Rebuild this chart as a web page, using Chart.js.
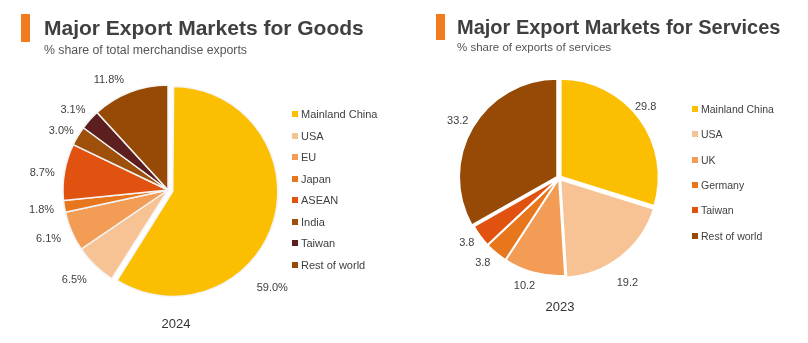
<!DOCTYPE html>
<html>
<head>
<meta charset="utf-8">
<script src="https://cdn.jsdelivr.net/npm/chart.js@4/dist/chart.umd.min.js"></script>
<style>
  html, body { margin: 0; padding: 0; background: #fff; }
  body { width: 808px; height: 343px; position: relative; overflow: hidden;
         font-family: "Liberation Sans", Arial, sans-serif; color: #404040; }
  .panel { position: absolute; top: 0; width: 404px; height: 343px; }
  .panel canvas { position: absolute; left: 0; top: 0; }
  .bar { position: absolute; width: 9px; background: #F07C1F; }
  .title { position: absolute; font-weight: bold; color: #404040; white-space: nowrap; }
  .sub { position: absolute; color: #555; white-space: nowrap; }
  .year { position: absolute; font-size: 13px; color: #333; transform: translateX(-50%); }
  .legend { position: absolute; color: #404040; }
  .legend div { position: absolute; white-space: nowrap; line-height: 12px; }
  .legend span { display: inline-block; width: 6px; height: 6px; margin-right: 3px; vertical-align: 1px; }
</style>
</head>
<body>
<div class="panel" id="goodsPanel" style="left:0">
  <canvas id="goods" width="404" height="343"></canvas>
  <div class="bar" style="left:21px; top:14px; height:28px"></div>
  <div class="title" style="left:44px; top:16px; font-size:21px">Major Export Markets for Goods</div>
  <div class="sub" style="left:44px; top:43px; font-size:12.3px">% share of total merchandise exports</div>
  <div class="legend" id="goodsLegend" style="left:292px; top:108px; font-size:11px"></div>
  <div class="year" style="left:176px; top:316px">2024</div>
</div>
<div class="panel" id="servPanel" style="left:404px">
  <canvas id="services" width="404" height="343"></canvas>
  <div class="bar" style="left:32px; top:14px; height:26px"></div>
  <div class="title" style="left:53px; top:16px; font-size:20px">Major Export Markets for Services</div>
  <div class="sub" style="left:53px; top:41px; font-size:11.5px">% share of exports of services</div>
  <div class="legend" id="servLegend" style="left:288px; top:103px; font-size:10.5px"></div>
  <div class="year" style="left:156px; top:299px">2023</div>
</div>
<script>
// Goods exports, 2024 (% of total merchandise exports)
const goodsLabels = ['Mainland China', 'USA', 'EU', 'Japan', 'ASEAN', 'India', 'Taiwan', 'Rest of world'];
const goodsValues = [59.0, 6.5, 6.1, 1.8, 8.7, 3.0, 3.1, 11.8];
const goodsValueText = ['59.0%', '6.5%', '6.1%', '1.8%', '8.7%', '3.0%', '3.1%', '11.8%'];

// Services exports, 2023 (% of exports of services)
const servLabels = ['Mainland China', 'USA', 'UK', 'Germany', 'Taiwan', 'Rest of world'];
const servValues = [29.8, 19.2, 10.2, 3.8, 3.8, 33.2];
const servValueText = ['29.8', '19.2', '10.2', '3.8', '3.8', '33.2'];

// Palette
const goodsColors = ['#FBBE00', '#F7C394', '#F39C55', '#E8761C', '#E1510F', '#9E500B', '#5C1E1E', '#964A06'];
const servColors = ['#FBBE00', '#F7C394', '#F39C55', '#E8761C', '#E1510F', '#964A06'];

// Exploded slices wider than a half circle get a larger radius from Chart.js;
// keep them at the same radius as the rest of the pie.
const keepRadius = {
  id: 'keepRadius',
  beforeDatasetsDraw(chart) {
    const meta = chart.getDatasetMeta(0);
    const base = meta.controller.outerRadius;
    const offs = chart.data.datasets[0].offset;
    meta.data.forEach((arc, i) => {
      const off = offs[i] || 0;
      if (arc.circumference > Math.PI && off) arc.outerRadius = base - off / 4;
    });
  }
};

// Draws each slice's value just outside the pie near its mid-angle.
const outsideLabels = {
  id: 'outsideLabels',
  afterDatasetsDraw(chart, args, opts) {
    const ctx = chart.ctx;
    const meta = chart.getDatasetMeta(0);
    const base = meta.controller.outerRadius;
    ctx.save();
    ctx.font = '11px "Liberation Sans", Arial, sans-serif';
    ctx.fillStyle = '#404040';
    ctx.textAlign = 'center';
    ctx.textBaseline = 'middle';
    meta.data.forEach((arc, i) => {
      const p = arc.getProps(['x', 'y', 'startAngle', 'endAngle']);
      const mid = (p.startAngle + p.endAngle) / 2 + (opts.shift[i] || 0) * Math.PI / 180;
      const r = base + opts.gap[i];
      ctx.fillText(opts.text[i], p.x + Math.cos(mid) * r, p.y + Math.sin(mid) * r);
    });
    ctx.restore();
  }
};

function makePie(cfg) {
  return new Chart(document.getElementById(cfg.id), {
    type: 'pie',
    data: {
      labels: cfg.labels,
      datasets: [{
        data: cfg.values,
        backgroundColor: cfg.colors,
        borderColor: cfg.border,
        borderWidth: cfg.borderWidth,
        offset: cfg.offsets
      }]
    },
    options: {
      responsive: false,
      animation: false,
      radius: cfg.radius,
      layout: { padding: cfg.padding },
      plugins: {
        legend: { display: false },
        tooltip: { enabled: false },
        outsideLabels: { text: cfg.text, shift: cfg.shift, gap: cfg.gap }
      }
    },
    plugins: [keepRadius, outsideLabels]
  });
}

function makeLegend(id, labels, colors, step) {
  const box = document.getElementById(id);
  labels.forEach((name, i) => {
    const d = document.createElement('div');
    d.style.top = (i * step) + 'px';
    d.innerHTML = '<span style="background:' + colors[i] + '"></span>' + name;
    box.appendChild(d);
  });
}

makePie({
  id: 'goods', labels: goodsLabels, values: goodsValues, colors: goodsColors,
  border: '#F4F4F4', borderWidth: 1.5,
  offsets: [20, 0, 0, 0, 0, 0, 0, 0], radius: 105,
  padding: { left: 16, right: 84, top: 50, bottom: 13 },
  text: goodsValueText,
  shift: [27, 2, 1, 0, -2, -2, -2, -7],
  gap: [38, 25, 24, 23, 22, 17, 19, 20]
});

makePie({
  id: 'services', labels: servLabels, values: servValues, colors: servColors,
  border: '#FFFFFF', borderWidth: 2,
  offsets: [8, 8, 0, 0, 0, 8], radius: 98,
  padding: { left: 10, right: 104, top: 40, bottom: 27 },
  text: servValueText,
  shift: [-3, 5, 3, 2, 1, -1],
  gap: [14, 27, 15, 16, 15, 18]
});

makeLegend('goodsLegend', goodsLabels, goodsColors, 21.5);
makeLegend('servLegend', servLabels, servColors, 25.3);
</script>
</body>
</html>
